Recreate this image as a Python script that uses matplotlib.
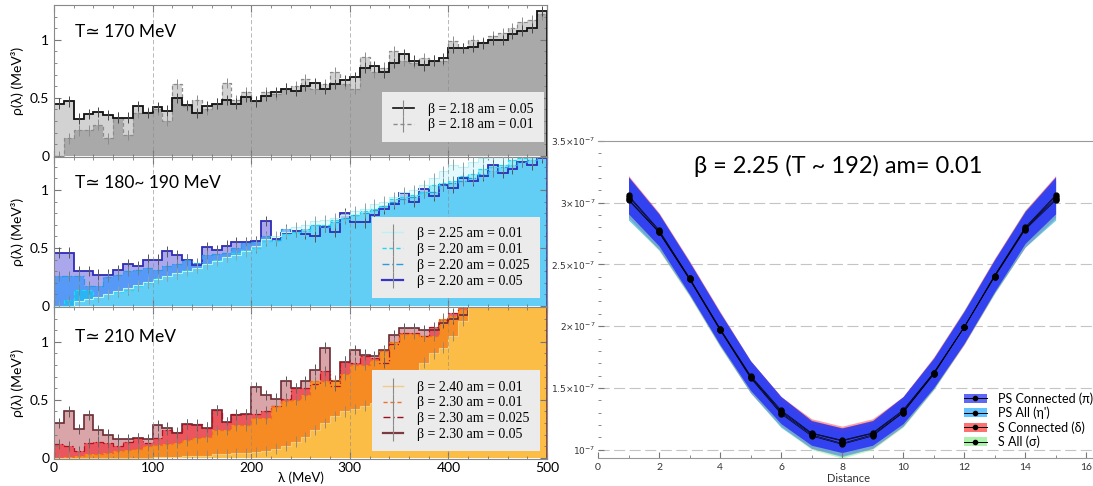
import numpy as np
import matplotlib
matplotlib.use("Agg")
import matplotlib.pyplot as plt
from matplotlib.lines import Line2D
from matplotlib.patches import Patch
from matplotlib.ticker import MultipleLocator

plt.rcParams['font.family'] = ['Lato', 'DejaVu Sans']

# -----------------------------------------
# Spectral densities rho(lambda), 10 MeV bins from 0 to 500 MeV
# -----------------------------------------
lam_edges = np.arange(0, 510, 10)

# T ~ 170 MeV
rho_218_005 = [0.45, 0.47, 0.32, 0.36, 0.38, 0.35, 0.33, 0.33, 0.43, 0.37,
               0.42, 0.39, 0.50, 0.44, 0.37, 0.43, 0.45, 0.48, 0.45, 0.51,
               0.47, 0.52, 0.55, 0.58, 0.56, 0.60, 0.63, 0.58, 0.62, 0.65,
               0.68, 0.76, 0.77, 0.72, 0.80, 0.88, 0.82, 0.78, 0.82, 0.84,
               0.93, 0.93, 0.94, 0.97, 1.00, 1.00, 1.05, 1.08, 1.10, 1.25]
rho_218_001 = [0.00, 0.15, 0.22, 0.22, 0.27, 0.15, 0.33, 0.18, 0.37, 0.38,
               0.40, 0.30, 0.62, 0.43, 0.48, 0.40, 0.45, 0.63, 0.48, 0.55,
               0.47, 0.55, 0.53, 0.58, 0.60, 0.66, 0.58, 0.62, 0.72, 0.62,
               0.58, 0.85, 0.72, 0.76, 0.90, 0.82, 0.80, 0.84, 0.82, 0.82,
               0.99, 0.93, 1.00, 0.98, 1.03, 1.06, 1.10, 1.15, 1.17, 1.22]

# T ~ 180-190 MeV
rho_225_001 = [0.00, 0.00, 0.04, 0.06, 0.08, 0.10, 0.13, 0.15, 0.18, 0.21,
               0.23, 0.26, 0.28, 0.30, 0.33, 0.36, 0.39, 0.42, 0.44, 0.47,
               0.52, 0.58, 0.60, 0.64, 0.68, 0.70, 0.73, 0.74, 0.76, 0.78,
               0.82, 0.84, 0.88, 0.90, 0.94, 0.98, 1.00, 1.04, 1.10, 1.16,
               1.22, 1.20, 1.24, 1.28, 1.30, 1.30, 1.32, 1.30, 1.34, 1.36]
rho_220_001 = [0.00, 0.05, 0.14, 0.14, 0.08, 0.10, 0.12, 0.14, 0.17, 0.20,
               0.24, 0.26, 0.28, 0.31, 0.33, 0.36, 0.40, 0.42, 0.46, 0.48,
               0.50, 0.56, 0.56, 0.62, 0.64, 0.65, 0.70, 0.70, 0.74, 0.75,
               0.78, 0.82, 0.84, 0.86, 0.92, 0.94, 0.96, 0.98, 1.04, 1.06,
               1.08, 1.12, 1.14, 1.18, 1.20, 1.22, 1.26, 1.28, 1.30, 1.33]
rho_220_0025 = [0.26, 0.26, 0.26, 0.17, 0.17, 0.25, 0.27, 0.30, 0.31, 0.33,
                0.31, 0.34, 0.36, 0.40, 0.37, 0.44, 0.45, 0.46, 0.50, 0.54,
                0.55, 0.60, 0.57, 0.66, 0.64, 0.66, 0.70, 0.68, 0.72, 0.76,
                0.78, 0.80, 0.83, 0.86, 0.90, 0.92, 0.94, 0.98, 0.98, 1.04,
                1.06, 1.08, 1.10, 1.14, 1.16, 1.20, 1.22, 1.24, 1.26, 1.30]
rho_220_005 = [0.46, 0.46, 0.30, 0.30, 0.27, 0.27, 0.31, 0.36, 0.34, 0.40,
               0.40, 0.47, 0.44, 0.40, 0.35, 0.51, 0.48, 0.52, 0.55, 0.55,
               0.56, 0.73, 0.58, 0.63, 0.65, 0.62, 0.60, 0.68, 0.64, 0.80,
               0.72, 0.72, 0.78, 0.84, 0.88, 0.97, 0.90, 1.01, 0.95, 1.04,
               1.02, 1.10, 1.08, 1.12, 1.22, 1.15, 1.18, 1.24, 1.22, 1.28]

# T ~ 210 MeV
rho_240_001 = [0.00, 0.00, 0.00, 0.00, 0.00, 0.00, 0.00, 0.00, 0.00, 0.00,
               0.005, 0.01, 0.01, 0.015, 0.02, 0.02, 0.03, 0.03, 0.04, 0.04,
               0.05, 0.06, 0.08, 0.10, 0.14, 0.18, 0.24, 0.30, 0.36, 0.40,
               0.42, 0.45, 0.47, 0.62, 0.64, 0.66, 0.70, 0.82, 0.90, 0.95,
               1.05, 1.18, 1.40, 1.45, 1.50, 1.55, 1.60, 1.65, 1.70, 1.75]
rho_230_001 = [0.00, 0.01, 0.02, 0.03, 0.03, 0.04, 0.06, 0.07, 0.08, 0.10,
               0.11, 0.12, 0.13, 0.15, 0.17, 0.18, 0.24, 0.24, 0.28, 0.28,
               0.34, 0.34, 0.45, 0.49, 0.50, 0.54, 0.66, 0.66, 0.67, 0.72,
               0.80, 0.80, 0.84, 0.92, 1.00, 1.07, 1.07, 1.05, 1.05, 1.20,
               1.22, 1.28, 1.35, 1.40, 1.44, 1.48, 1.52, 1.56, 1.60, 1.64]
rho_230_0025 = [0.12, 0.10, 0.06, 0.13, 0.14, 0.13, 0.10, 0.14, 0.17, 0.13,
                0.17, 0.24, 0.22, 0.29, 0.29, 0.26, 0.41, 0.31, 0.38, 0.38,
                0.38, 0.40, 0.45, 0.51, 0.60, 0.60, 0.64, 0.75, 0.62, 0.83,
                0.82, 0.88, 0.86, 0.82, 0.98, 1.08, 1.08, 1.05, 1.13, 1.19,
                1.25, 1.30, 1.38, 1.42, 1.46, 1.50, 1.54, 1.58, 1.62, 1.66]
rho_230_005 = [0.30, 0.40, 0.25, 0.37, 0.24, 0.20, 0.16, 0.16, 0.17, 0.16,
               0.28, 0.26, 0.21, 0.29, 0.28, 0.26, 0.41, 0.31, 0.37, 0.38,
               0.61, 0.54, 0.51, 0.66, 0.60, 0.66, 0.76, 0.95, 0.66, 0.83,
               0.93, 0.89, 0.88, 0.93, 1.06, 1.12, 1.12, 1.10, 1.10, 1.16,
               1.20, 1.23, 1.35, 1.40, 1.45, 1.50, 1.55, 1.60, 1.65, 1.70]

rho_err = 0.045

# -----------------------------------------
# Correlators vs distance (units of 1e-7)
# -----------------------------------------
distance = list(range(1, 16))
ps_conn = [3.06, 2.78, 2.39, 1.98, 1.60, 1.32, 1.135, 1.076, 1.135, 1.32, 1.62, 1.99, 2.41, 2.80, 3.06]
ps_all = [3.02, 2.76, 2.38, 1.97, 1.58, 1.29, 1.11, 1.043, 1.11, 1.30, 1.61, 1.99, 2.40, 2.78, 3.02]
s_conn = [3.05, 2.77, 2.39, 1.98, 1.59, 1.31, 1.13, 1.07, 1.13, 1.31, 1.62, 1.99, 2.41, 2.79, 3.05]
s_all = [3.03, 2.76, 2.38, 1.97, 1.59, 1.30, 1.12, 1.05, 1.12, 1.30, 1.61, 1.99, 2.40, 2.79, 3.03]
ps_conn_err = [0.15, 0.13, 0.13, 0.13, 0.12, 0.11, 0.10, 0.10, 0.10, 0.11, 0.12, 0.13, 0.13, 0.13, 0.15]
ps_all_err = [0.16, 0.14, 0.13, 0.13, 0.12, 0.11, 0.10, 0.10, 0.10, 0.11, 0.12, 0.13, 0.13, 0.14, 0.16]
s_conn_err = [0.17, 0.15, 0.14, 0.14, 0.13, 0.12, 0.12, 0.12, 0.12, 0.12, 0.13, 0.14, 0.14, 0.15, 0.17]
s_all_err = [0.17, 0.15, 0.14, 0.14, 0.13, 0.12, 0.12, 0.12, 0.12, 0.12, 0.13, 0.14, 0.14, 0.15, 0.17]


W, H = 1093, 486
fig = plt.figure(figsize=(W / 100, H / 100), dpi=100)


def px_axes(left, top, right, bottom):
    return fig.add_axes([left / W, 1 - bottom / H, (right - left) / W, (bottom - top) / H])


def style_rho_axes(ax, ytop, show_x):
    ax.set_xlim(0, 500)
    ax.set_ylim(-0.01, ytop)
    ax.xaxis.set_major_locator(MultipleLocator(100))
    ax.xaxis.set_minor_locator(MultipleLocator(20))
    ax.yaxis.set_major_locator(MultipleLocator(0.5))
    ax.yaxis.set_minor_locator(MultipleLocator(0.1))
    ax.yaxis.set_major_formatter(plt.FuncFormatter(lambda v, p: f"{v:g}"))
    ax.tick_params(which='both', direction='in', top=True, right=True, color='#777')
    ax.tick_params(which='major', length=5, labelsize=10)
    ax.tick_params(which='minor', length=2.5)
    if not show_x:
        ax.tick_params(axis='x', labelbottom=False)
    for s in ax.spines.values():
        s.set_color('#888')
        s.set_linewidth(0.8)
    for x in (100, 200, 300, 400):
        ax.axvline(x, color='#8a8a8a', lw=0.6, ls=(0, (5, 3)), alpha=0.7, zorder=4)
    ax.set_ylabel('ρ(λ) (MeV³)', fontsize=10, labelpad=4)


def draw_series(ax, vals, fill, alpha, line, ls, lw, ecolor):
    vals = np.array(vals)
    if fill is not None:
        ax.stairs(vals, lam_edges, fill=True, color=fill, alpha=alpha, lw=0, zorder=1)
    ax.stairs(vals, lam_edges, color=line, ls=ls, lw=lw, zorder=2)
    ax.errorbar(lam_edges[:-1] + 5, vals, yerr=rho_err, fmt='none',
                ecolor=ecolor, elinewidth=0.7, zorder=3)


def legend_handle(color, ls, lw):
    return (Line2D([], [], color=color, ls=ls, lw=lw),
            Line2D([], [], color='#8a8a8a', marker='|', ls='none', ms=12, mew=0.8))


def rho_legend(ax, handles, labels, anchor):
    ax.legend(handles, labels, loc='lower right', bbox_to_anchor=anchor,
              prop={'family': 'Liberation Serif', 'size': 10},
              facecolor='#ebebeb', edgecolor='none', framealpha=1, fancybox=False,
              borderpad=0.75, borderaxespad=0, handlelength=1.5, handletextpad=1.0,
              labelspacing=0.2)


# ---- T ~ 170 MeV ----
ax1 = px_axes(54, 5, 547, 157)
a = np.array(rho_218_005)
b = np.array(rho_218_001)
ax1.stairs(np.maximum(a, b), lam_edges, fill=True, color='#d2d2d2', lw=0, zorder=1)
ax1.stairs(np.minimum(a, b), lam_edges, fill=True, color='#a9a9a9', lw=0, zorder=1)
draw_series(ax1, rho_218_001, None, 1, '#8c8c8c', (0, (3, 2)), 0.9, '#8c8c8c')
draw_series(ax1, rho_218_005, None, 1, '#111111', '-', 1.3, '#444444')
style_rho_axes(ax1, 1.30, False)
ax1.text(0.043, 0.82, 'T≃ 170 MeV', transform=ax1.transAxes, fontsize=12.5, va='center')
rho_legend(ax1, [legend_handle('#111111', '-', 1.2), legend_handle('#8c8c8c', (0, (3, 2)), 1.0)],
           ['β = 2.18 am = 0.05', 'β = 2.18 am = 0.01'], (0.993, 0.10))

# ---- T ~ 180-190 MeV ----
ax2 = px_axes(54, 157, 547, 307)
draw_series(ax2, rho_220_005, '#8e8ae6', 0.75, '#2d2db8', '-', 1.3, '#555555')
draw_series(ax2, rho_220_0025, '#1e90ff', 0.6, '#2a9be0', (0, (5, 2, 1, 2)), 0.9, '#6a7f90')
draw_series(ax2, rho_220_001, '#00d0f0', 0.5, '#20d8f0', (0, (3, 2)), 0.9, '#6a8f99')
draw_series(ax2, rho_225_001, '#b8f4fa', 0.4, '#b8f2f6', '-', 0.8, '#8aa5aa')
style_rho_axes(ax2, 1.285, False)
ax2.text(0.043, 0.83, 'T≃ 180~ 190 MeV', transform=ax2.transAxes, fontsize=12.5, va='center')
rho_legend(ax2, [legend_handle('#b8f2f6', '-', 1.0), legend_handle('#20d8f0', (0, (3, 2)), 1.0),
                 legend_handle('#2a9be0', (0, (5, 2, 1, 2)), 1.0), legend_handle('#3535c8', '-', 1.6)],
           ['β = 2.25 am = 0.01', 'β = 2.20 am = 0.01', 'β = 2.20 am = 0.025', 'β = 2.20 am = 0.05'],
           (0.986, 0.06))

# ---- T ~ 210 MeV ----
ax3 = px_axes(54, 307, 547, 459)
draw_series(ax3, rho_230_005, '#d8a0a4', 0.95, '#6b2a33', '-', 1.2, '#555555')
draw_series(ax3, rho_230_0025, '#ee4d55', 0.9, '#b01020', (0, (5, 2, 1, 2)), 0.9, '#666666')
draw_series(ax3, rho_230_001, '#f7901e', 0.92, '#f26a1b', (0, (3, 2)), 0.9, '#8a7a66')
draw_series(ax3, rho_240_001, '#fcc24a', 0.92, '#f7cc80', '-', 0.8, '#9a8a70')
style_rho_axes(ax3, 1.30, True)
ax3.tick_params(axis='x', which='major', pad=2)
ax3.set_xlabel('λ (MeV)', fontsize=9.5, labelpad=-2)
ax3.text(0.043, 0.80, 'T≃ 210 MeV', transform=ax3.transAxes, fontsize=12.5, va='center')
rho_legend(ax3, [legend_handle('#f5c98a', '-', 1.0), legend_handle('#f07030', (0, (3, 2)), 1.0),
                 legend_handle('#9a1020', (0, (5, 2, 1, 2)), 1.0), legend_handle('#7a3a40', '-', 1.6)],
           ['β = 2.40 am = 0.01', 'β = 2.30 am = 0.01', 'β = 2.30 am = 0.025', 'β = 2.30 am = 0.05'],
           (0.986, 0.05))

# ---- correlators ----
ax4 = px_axes(598, 141, 1098, 458)
d = np.array(distance)
bands = [
    (s_all, s_all_err, '#90ee90', 0.5, 'S All (σ)'),
    (s_conn, s_conn_err, '#ff4040', 0.5, 'S Connected (δ)'),
    (ps_all, ps_all_err, '#30b0ff', 0.6, "PS All (η')"),
    (ps_conn, ps_conn_err, '#2a34f5', 0.88, 'PS Connected (π)'),
]
for vals, err, col, al, lab in bands:
    v = np.array(vals) * 1e-7
    e = np.array(err) * 1e-7
    ax4.fill_between(d, v - e, v + e, color=col, alpha=al, lw=0, zorder=1)
for vals, err, col, al, lab in bands:
    ax4.plot(d, np.array(vals) * 1e-7, color='k', lw=0.45, marker='o', ms=3.5, zorder=3)

ax4.set_xlim(0, 16.39)
ax4.set_ylim(0.932e-7, 3.5e-7)
yt = [1e-7, 1.5e-7, 2e-7, 2.5e-7, 3e-7, 3.5e-7]
ax4.set_yticks(yt)
ax4.set_yticklabels([r'$10^{-7}$', r'$1.5{\times}10^{-7}$', r'$2{\times}10^{-7}$',
                     r'$2.5{\times}10^{-7}$', r'$3{\times}10^{-7}$', r'$3.5{\times}10^{-7}$'])
ax4.yaxis.set_minor_locator(MultipleLocator(0.1e-7))
ax4.xaxis.set_major_locator(MultipleLocator(2))
ax4.xaxis.set_minor_locator(MultipleLocator(1))
ax4.tick_params(which='both', direction='in', color='#777')
ax4.tick_params(axis='y', which='major', length=4, labelsize=6.5, pad=2, labelcolor='#333')
ax4.tick_params(axis='y', which='minor', length=2)
ax4.tick_params(axis='x', which='major', length=4, labelsize=7.5, labelcolor='#333')
ax4.tick_params(axis='x', which='minor', length=2.5)
for y in yt[:-1]:
    ax4.axhline(y, color='#c4c4c4', lw=0.8, ls=(0, (10, 4)), zorder=0)
ax4.spines['left'].set_visible(False)
ax4.spines['right'].set_visible(False)
ax4.spines['top'].set_color('#999')
ax4.spines['bottom'].set_color('#999')
ax4.set_xlabel('Distance', fontsize=8, labelpad=1, color='#333')
ax4.text(0.48, 0.92, 'β = 2.25 (T ~ 192) am= 0.01', transform=ax4.transAxes,
         fontsize=17, ha='center', va='center')

leg_handles = []
leg_labels = []
for vals, err, col, al, lab in bands[::-1]:
    leg_handles.append((Patch(facecolor=col, alpha=0.75, edgecolor='none'),
                        Line2D([], [], color='k', lw=0.7, marker='o', ms=3)))
    leg_labels.append(lab)
ax4.legend(leg_handles, leg_labels, loc='lower left', bbox_to_anchor=(0.712, 0.0),
           frameon=False, fontsize=9, handlelength=1.8, handletextpad=0.9,
           labelspacing=0.15, borderpad=0.3)

fig.savefig('out.png', dpi=100)
